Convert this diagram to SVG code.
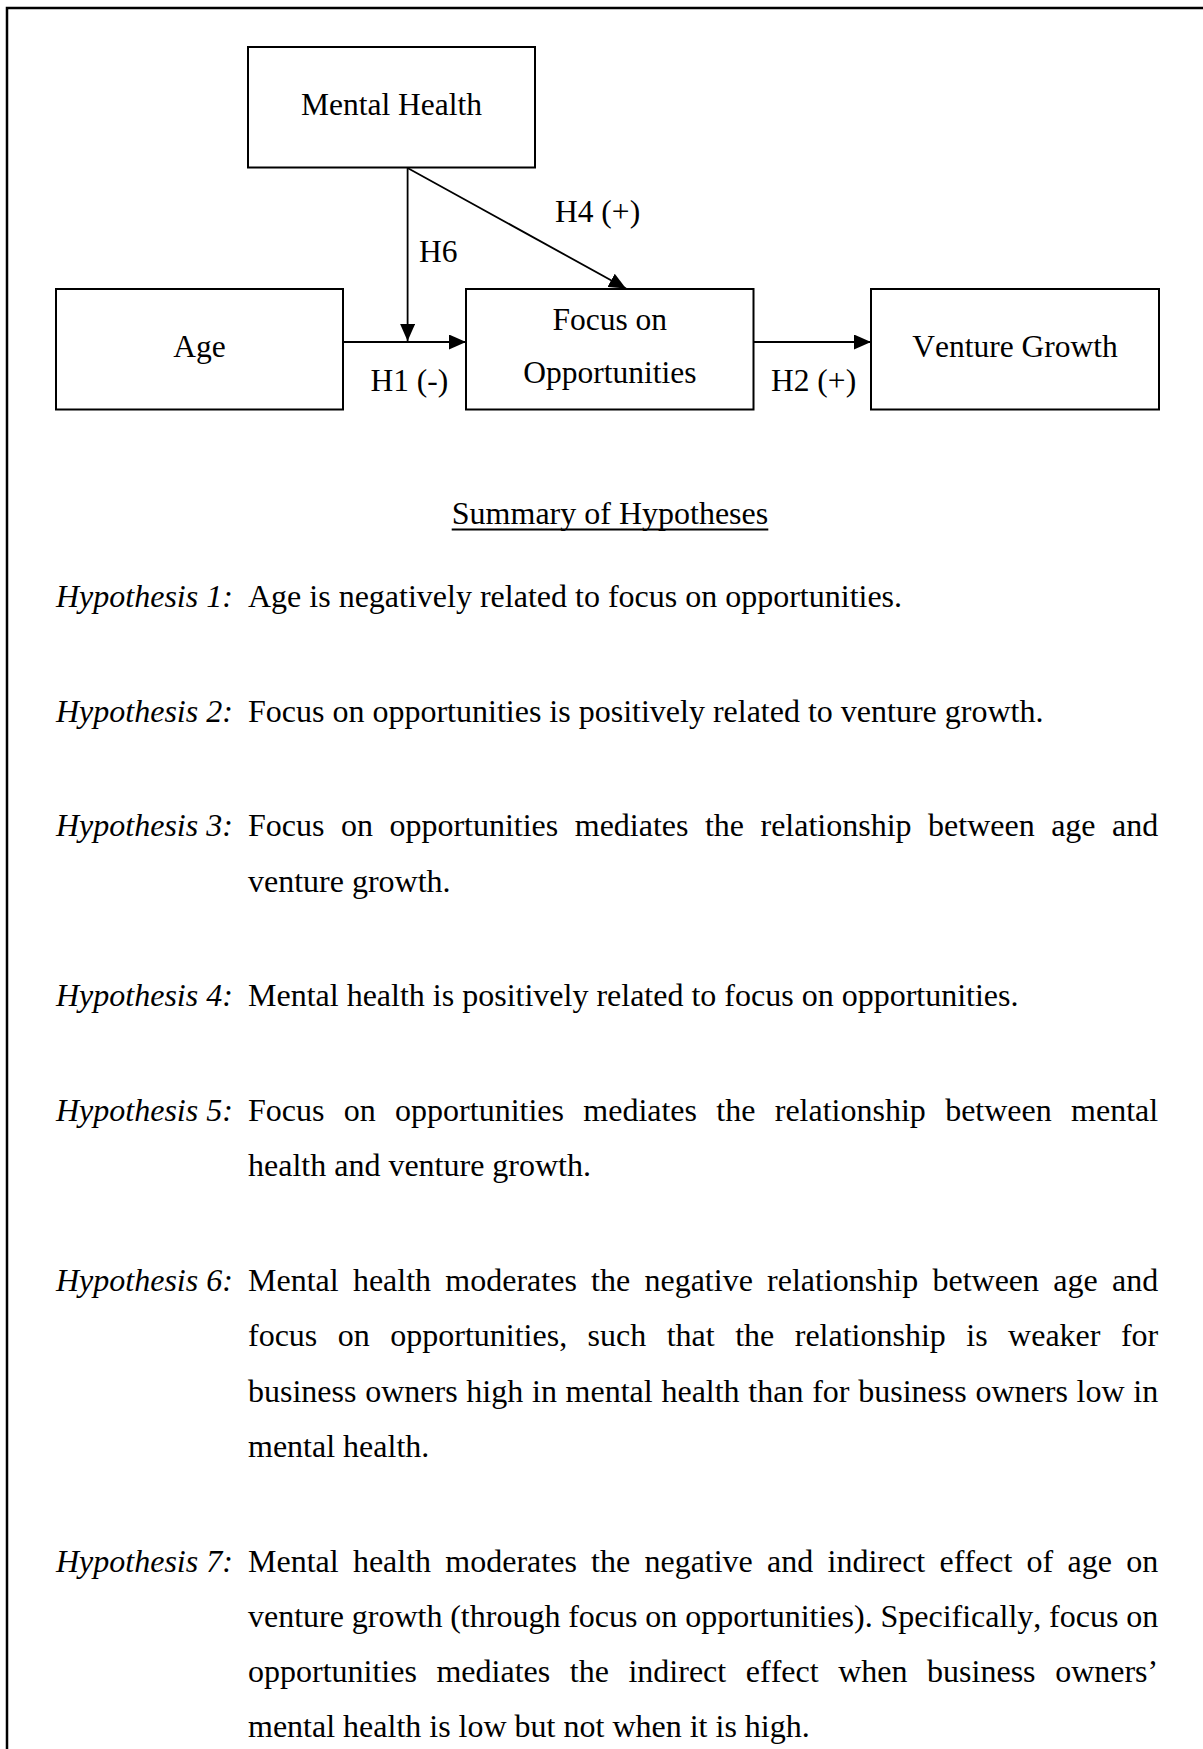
<svg xmlns="http://www.w3.org/2000/svg" width="1203" height="1749" viewBox="0 0 1203 1749">
<style>
  text { font-family: "Liberation Serif", "Times New Roman", serif; fill: #000; font-kerning: none; font-variant-ligatures: none; }
  .box { fill: #fff; stroke: #000; stroke-width: 2; }
  .node { font-size: 31.5px; text-anchor: middle; }
  .lbl { font-size: 31.5px; }
  .edge { stroke: #000; stroke-width: 1.8; fill: none; }
  .body { font-size: 32px; }
  .hyp { font-size: 32px; font-style: italic; }
  .title { font-size: 32px; text-anchor: middle; }
</style>
<defs>
  <marker id="arr" markerUnits="userSpaceOnUse" viewBox="0 0 17 15" refX="17" refY="7.5" markerWidth="17" markerHeight="15" orient="auto">
    <path d="M0,0 L17,7.5 L0,15 Z" fill="#000"/>
  </marker>
</defs>
<rect width="1203" height="1749" fill="#fff"/>
<path d="M7,1749 V8 H1203" fill="none" stroke="#000" stroke-width="2.5"/>

<g id="connectors">
  <line class="edge" x1="407.6" y1="168" x2="407.6" y2="341" marker-end="url(#arr)"/>
  <line class="edge" x1="407.6" y1="168" x2="626" y2="288.5" marker-end="url(#arr)"/>
  <line class="edge" x1="343" y1="342" x2="466" y2="342" marker-end="url(#arr)"/>
  <line class="edge" x1="753.5" y1="342" x2="871" y2="342" marker-end="url(#arr)"/>
  <text class="lbl" x="419" y="262">H6</text>
  <text class="lbl" x="555" y="222">H4 (+)</text>
  <text class="lbl" x="370.5" y="391">H1 (-)</text>
  <text class="lbl" x="771" y="391">H2 (+)</text>
</g>

<g id="node-mental-health">
  <rect class="box" x="248" y="47" width="287" height="120.5"/>
  <text class="node" x="391.5" y="115">Mental Health</text>
</g>
<g id="node-age">
  <rect class="box" x="56" y="289" width="287" height="120.5"/>
  <text class="node" x="199.5" y="357">Age</text>
</g>
<g id="node-focus">
  <rect class="box" x="466" y="289" width="287.5" height="120.5"/>
  <text class="node" x="609.8" y="330">Focus on</text>
  <text class="node" x="609.8" y="383">Opportunities</text>
</g>
<g id="node-venture-growth">
  <rect class="box" x="871" y="289" width="288" height="120.5"/>
  <text class="node" x="1015" y="357">Venture Growth</text>
</g>

<g id="summary">
  <text class="title" x="610" y="523.5">Summary of Hypotheses</text>
  <line x1="451.7" y1="529.5" x2="768.3" y2="529.5" stroke="#000" stroke-width="2"/>

  <text class="hyp" x="56" y="607.3">Hypothesis 1:</text>
  <text class="body" x="248" y="607.3">Age is negatively related to focus on opportunities.</text>

  <text class="hyp" x="56" y="722">Hypothesis 2:</text>
  <text class="body" x="248" y="722">Focus on opportunities is positively related to venture growth.</text>

  <text class="hyp" x="56" y="836.3">Hypothesis 3:</text>
  <text class="body" x="248" y="836.3" word-spacing="8.47">Focus on opportunities mediates the relationship between age and</text>
  <text class="body" x="248" y="891.8">venture growth.</text>

  <text class="hyp" x="56" y="1005.8">Hypothesis 4:</text>
  <text class="body" x="248" y="1005.8">Mental health is positively related to focus on opportunities.</text>

  <text class="hyp" x="56" y="1120.5">Hypothesis 5:</text>
  <text class="body" x="248" y="1120.5" word-spacing="11.32">Focus on opportunities mediates the relationship between mental</text>
  <text class="body" x="248" y="1176">health and venture growth.</text>

  <text class="hyp" x="56" y="1291">Hypothesis 6:</text>
  <text class="body" x="248" y="1291" word-spacing="6.26">Mental health moderates the negative relationship between age and</text>
  <text class="body" x="248" y="1346.3" word-spacing="12.47">focus on opportunities, such that the relationship is weaker for</text>
  <text class="body" x="248" y="1401.8" word-spacing="0.74">business owners high in mental health than for business owners low in</text>
  <text class="body" x="248" y="1457">mental health.</text>

  <text class="hyp" x="56" y="1572">Hypothesis 7:</text>
  <text class="body" x="248" y="1572" word-spacing="6.25">Mental health moderates the negative and indirect effect of age on</text>
  <text class="body" x="248" y="1627" word-spacing="-0.2">venture growth (through focus on opportunities). Specifically, focus on</text>
  <text class="body" x="248" y="1682" word-spacing="11.59">opportunities mediates the indirect effect when business owners’</text>
  <text class="body" x="248" y="1737">mental health is low but not when it is high.</text>
</g>
</svg>
